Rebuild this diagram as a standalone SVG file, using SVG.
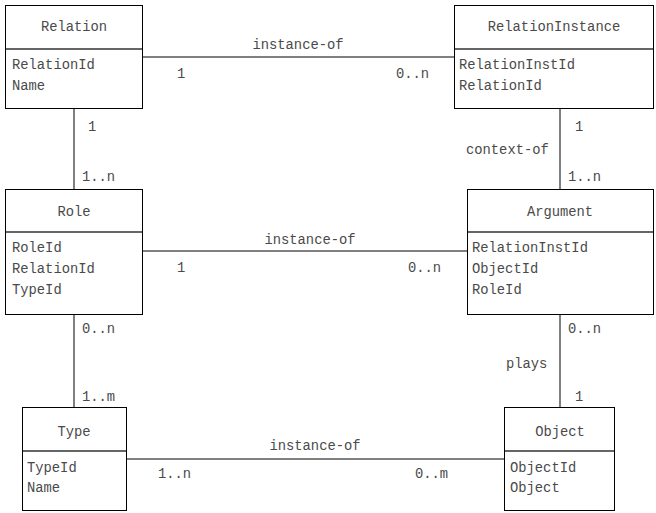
<svg xmlns="http://www.w3.org/2000/svg" width="656" height="513" viewBox="0 0 656 513">
<style>
text{font-family:"Liberation Mono","Courier New",monospace;font-size:13.8px;fill:#4a4a4a}
.box{fill:#fff;stroke:#000;stroke-width:1}
.div{stroke:#666;stroke-width:2}
.t{text-anchor:middle}
.c{stroke:#000;stroke-width:1;fill:none}
</style>
<rect width="656" height="513" fill="#fff"/>
<g id="connectors">
<line class="c" x1="142" y1="57" x2="454" y2="57"/>
<line class="c" x1="74" y1="108" x2="74" y2="189"/>
<line class="c" x1="560" y1="108" x2="560" y2="189"/>
<line class="c" x1="142" y1="251" x2="467" y2="251"/>
<line class="c" x1="74" y1="314" x2="74" y2="407"/>
<line class="c" x1="560" y1="314" x2="560" y2="407"/>
<line class="c" x1="127" y1="459" x2="504" y2="459"/>
<text class="t" x="298" y="49">instance-of</text>
<text x="177" y="78">1</text>
<text x="396" y="78">0..n</text>
<text x="88" y="131">1</text>
<text x="82" y="181">1..n</text>
<text x="575" y="131">1</text>
<text x="466" y="154">context-of</text>
<text x="568" y="181">1..n</text>
<text class="t" x="310" y="244">instance-of</text>
<text x="177" y="272">1</text>
<text x="408" y="272">0..n</text>
<text x="82" y="333">0..n</text>
<text x="82" y="401">1..m</text>
<text x="568" y="333">0..n</text>
<text x="506" y="368">plays</text>
<text x="575" y="401">1</text>
<text class="t" x="315" y="450">instance-of</text>
<text x="158" y="478">1..n</text>
<text x="415" y="478">0..m</text>
</g>
<g id="Relation">
<rect class="box" x="5.5" y="5.5" width="137" height="103"/>
<line class="div" x1="6" y1="49" x2="142" y2="49"/>
<text class="t" x="74" y="31">Relation</text>
<text x="12" y="69">RelationId</text>
<text x="12" y="90">Name</text>
</g>
<g id="RelationInstance">
<rect class="box" x="454.5" y="5.5" width="199" height="103"/>
<line class="div" x1="455" y1="49" x2="653" y2="49"/>
<text class="t" x="554" y="31">RelationInstance</text>
<text x="459" y="69">RelationInstId</text>
<text x="459" y="90">RelationId</text>
</g>
<g id="Role">
<rect class="box" x="5.5" y="189.5" width="137" height="125"/>
<line class="div" x1="6" y1="232" x2="142" y2="232"/>
<text class="t" x="74" y="216">Role</text>
<text x="12" y="252">RoleId</text>
<text x="12" y="273">RelationId</text>
<text x="12" y="294">TypeId</text>
</g>
<g id="Argument">
<rect class="box" x="467.5" y="189.5" width="186" height="125"/>
<line class="div" x1="468" y1="232" x2="653" y2="232"/>
<text class="t" x="560" y="216">Argument</text>
<text x="472" y="252">RelationInstId</text>
<text x="472" y="273">ObjectId</text>
<text x="472" y="294">RoleId</text>
</g>
<g id="Type">
<rect class="box" x="22.5" y="407.5" width="104" height="103"/>
<line class="div" x1="23" y1="451" x2="126" y2="451"/>
<text class="t" x="74" y="436">Type</text>
<text x="27" y="472">TypeId</text>
<text x="27" y="492">Name</text>
</g>
<g id="Object">
<rect class="box" x="504.5" y="407.5" width="110" height="103"/>
<line class="div" x1="505" y1="451" x2="614" y2="451"/>
<text class="t" x="560" y="436">Object</text>
<text x="510" y="472">ObjectId</text>
<text x="510" y="492">Object</text>
</g>
</svg>
